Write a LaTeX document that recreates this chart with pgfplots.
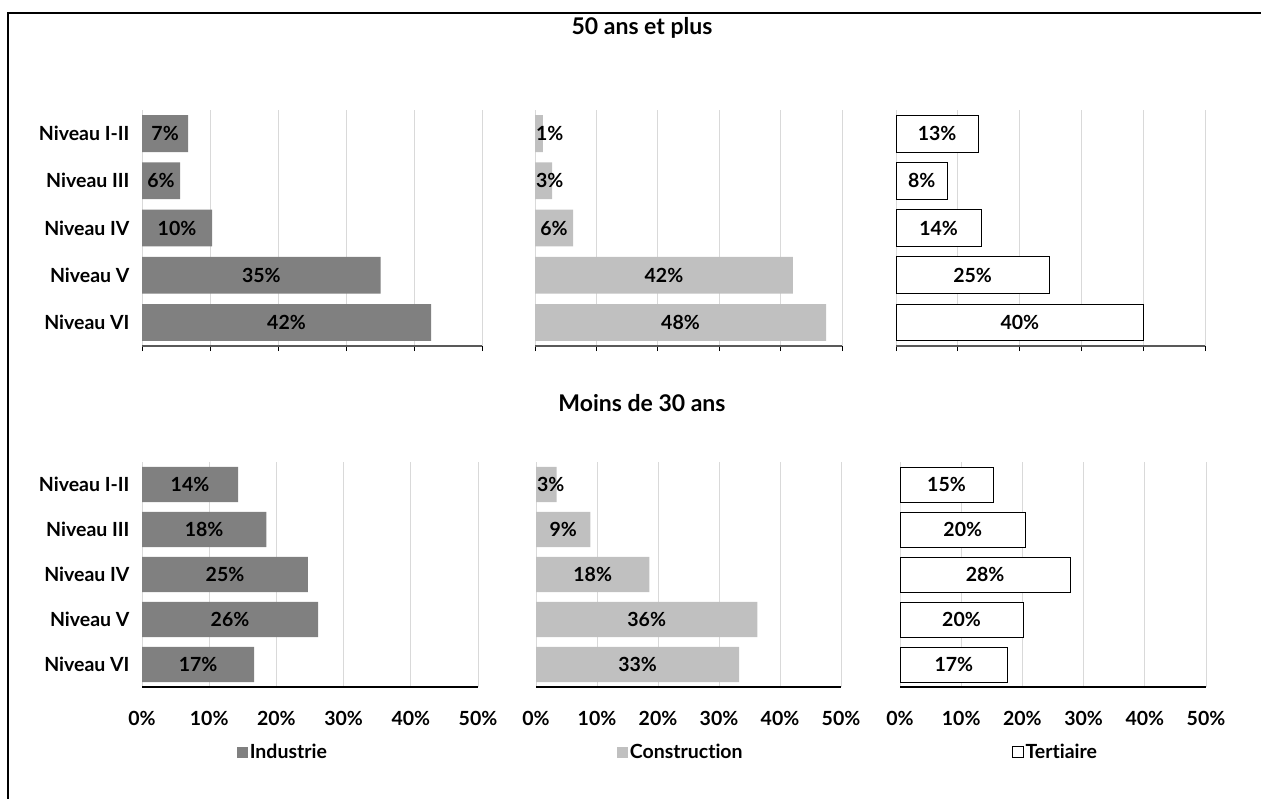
\documentclass[border=0pt]{standalone}
\usepackage{pgfplots}
\usepackage{pgfplotstable}
\pgfplotsset{compat=1.18}
\usepackage{fontspec}
\setmainfont{Lato}[Ligatures=NoCommon]
\definecolor{ind}{HTML}{808080}
\definecolor{con}{HTML}{C0C0C0}
\definecolor{grd}{HTML}{D9D9D9}

\pgfplotstableread{
c v lab
0 6.8 7
1 5.6 6
2 10.3 10
3 35.1 35
4 42.5 42
}\indA
\pgfplotstableread{
c v lab
0 1.3 1
1 2.8 3
2 6.2 6
3 42.0 42
4 47.4 48
}\conA
\pgfplotstableread{
c v lab
0 13.3 13
1 8.3 8
2 13.8 14
3 24.8 25
4 40.1 40
}\terA
\pgfplotstableread{
c v lab
0 14.3 14
1 18.5 18
2 24.7 25
3 26.2 26
4 16.7 17
}\indB
\pgfplotstableread{
c v lab
0 3.4 3
1 8.9 9
2 18.6 18
3 36.3 36
4 33.3 33
}\conB
\pgfplotstableread{
c v lab
0 15.2 15
1 20.5 20
2 27.8 28
3 20.1 20
4 17.6 17
}\terB

\newcommand{\lblfont}{\fontsize{19.5}{21}\selectfont\bfseries}

\pgfplotsset{
  panel/.style={
    scale only axis, xmin=0, xmax=50, ymin=-0.5, ymax=4.5, y dir=reverse,
    /pgf/number format/assume math mode=true,
    xtick={0,10,...,50}, ytick={0,...,4},
    xmajorgrids, grid style={grd, line width=0.8pt},
    axis x line*=bottom, axis y line*=left,
    y axis line style={draw=none}, ytick style={draw=none},
    yticklabels={},
    tick label style={font=\lblfont},
    clip=false,
    legend style={draw=none, fill=none, inner sep=0pt, anchor=west,
      font=\lblfont, nodes={inner sep=1.5pt}},
  },
  toprow/.style={height=236pt,
    x axis line style={draw=black!65, line width=1.2pt, -},
    xtick style={draw=black, line width=1pt}, xtick align=outside,
    major tick length=5pt, xticklabels={}},
  botrow/.style={height=225pt,
    x axis line style={draw=black, line width=1.3pt, -},
    major tick length=0pt,
    xticklabel={\pgfmathprintnumber{\tick}\%},
    xticklabel style={yshift=-21pt}},
  ylabs/.style={yticklabels={Niveau I-II, Niveau III, Niveau IV, Niveau V, Niveau VI},
    yticklabel style={xshift=-9pt}},
  lbl/.style={only marks, mark=*, mark size=0pt, mark options={draw=none, fill=none},
    point meta=explicit,
    nodes near coords={\pgfmathprintnumber{\pgfplotspointmeta}\%},
    nodes near coords style={anchor=center, font=\lblfont, text=black}, forget plot},
  sq/.style={legend image code/.code={\path[##1] (0pt,-5.5pt) rectangle (11pt,5.5pt);}},
}

\begin{document}
\begin{tikzpicture}
\path[use as bounding box] (0,0) rectangle (1261pt,-798pt);
\draw[line width=2pt] (1275pt,-13pt) -- (8pt,-13pt) -- (8pt,-810pt);

\node[font=\fontsize{23}{25}\selectfont\bfseries] at (642pt,-28pt) {50 ans et plus};
\node[font=\fontsize{23}{25}\selectfont\bfseries] at (642pt,-403pt) {Moins de 30 ans};

% top row
\begin{axis}[panel, toprow, ylabs, width=340pt, at={(142pt,-346pt)}, anchor=south west]
\addplot[xbar, fill=ind, draw=none, bar width=0.78, bar shift=0pt] table[x=v, y=c] {\indA};
\addplot[lbl] table[x expr={max(\thisrow{v}/2,2.4)}, y=c, meta=lab] {\indA};
\end{axis}
\begin{axis}[panel, toprow, width=307pt, at={(535pt,-346pt)}, anchor=south west]
\addplot[xbar, fill=con, draw=none, bar width=0.78, bar shift=0pt] table[x=v, y=c] {\conA};
\addplot[lbl] table[x expr={max(\thisrow{v}/2,2.4)}, y=c, meta=lab] {\conA};
\end{axis}
\begin{axis}[panel, toprow, width=309pt, at={(896pt,-346pt)}, anchor=south west]
\addplot[xbar, fill=white, draw=black, line width=1pt, bar width=0.78, bar shift=0pt] table[x=v, y=c] {\terA};
\addplot[lbl] table[x expr={max(\thisrow{v}/2,2.4)}, y=c, meta=lab] {\terA};
\end{axis}

% bottom row
\begin{axis}[panel, botrow, ylabs, width=336pt, at={(142pt,-687pt)}, anchor=south west,
  legend style={at={(0.283,-0.289)}}]
\addplot[xbar, fill=ind, draw=none, bar width=0.78, bar shift=0pt, sq] table[x=v, y=c] {\indB};
\addlegendentry{Industrie}
\addplot[lbl] table[x expr={max(\thisrow{v}/2,2.4)}, y=c, meta=lab] {\indB};
\end{axis}
\begin{axis}[panel, botrow, width=305pt, at={(536pt,-687pt)}, anchor=south west,
  legend style={at={(0.266,-0.289)}}]
\addplot[xbar, fill=con, draw=none, bar width=0.78, bar shift=0pt, sq] table[x=v, y=c] {\conB};
\addlegendentry{Construction}
\addplot[lbl] table[x expr={max(\thisrow{v}/2,2.4)}, y=c, meta=lab] {\conB};
\end{axis}
\begin{axis}[panel, botrow, width=306pt, at={(900pt,-687pt)}, anchor=south west,
  legend style={at={(0.366,-0.289)}}]
\addplot[xbar, fill=white, draw=black, line width=0.8pt, bar width=0.78, bar shift=0pt, sq] table[x=v, y=c] {\terB};
\addlegendentry{Tertiaire}
\addplot[lbl] table[x expr={max(\thisrow{v}/2,2.4)}, y=c, meta=lab] {\terB};
\end{axis}
\end{tikzpicture}
\end{document}
